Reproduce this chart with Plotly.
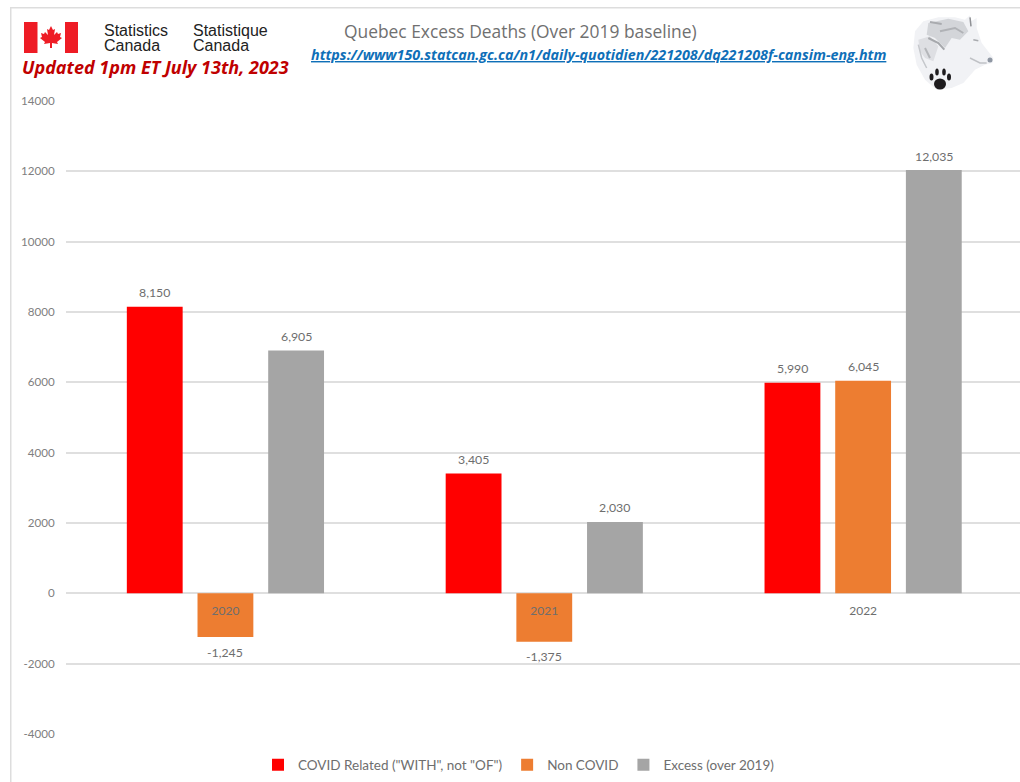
import plotly.graph_objects as go

years = ["2020", "2021", "2022"]
covid_related = [8150, 3405, 5990]
non_covid = [-1245, -1375, 6045]
excess = [6905, 2030, 12035]
series_names = ['COVID Related ("WITH", not "OF")', "Non COVID", "Excess (over 2019)"]
y_ticks = [-4000, -2000, 0, 2000, 4000, 6000, 8000, 10000, 12000, 14000]

W, H = 1020, 782
L, R, T, B = 66, 0, 101, 48
BARGAP = 0.335
X_RANGE = [-0.5, 2.492]
FONT = "Lato, Carlito, sans-serif"
TXT = "#6e6e6e"


def px(x):
    return (x - L) / (W - L - R)


def py(y):
    return 1 - (y - T) / (H - T - B)


def shape(points, fill, line=None, width=0):
    d = "M" + " L".join(f"{px(a):.5f},{py(b):.5f}" for a, b in points) + " Z"
    return dict(type="path", xref="paper", yref="paper", path=d, fillcolor=fill,
                line=dict(color=line or fill, width=width), layer="above")


def wolf(points):
    return [(905 + a / 3, 8 + b / 3) for a, b in points]


def stroke(points, color, width):
    d = "M" + " L".join(f"{px(a):.5f},{py(b):.5f}" for a, b in wolf(points))
    return dict(type="path", xref="paper", yref="paper", path=d, line=dict(color=color, width=width), layer="above")


def circle(cx, cy, rx, ry, fill):
    return dict(type="circle", xref="paper", yref="paper", x0=px(cx - rx), x1=px(cx + rx),
                y0=py(cy + ry), y1=py(cy - ry), fillcolor=fill, line=dict(width=0), layer="above")


def rect(x0, y0, x1, y1, fill):
    return dict(type="rect", xref="paper", yref="paper", x0=px(x0), x1=px(x1), y0=py(y1), y1=py(y0),
                fillcolor=fill, line=dict(width=0), layer="above")


fig = go.Figure()
all_series = [covid_related, non_covid, excess]
for name, vals, color in zip(series_names, all_series, ["#FF0000", "#ED7D31", "#A5A5A5"]):
    fig.add_bar(name=name, x=years, y=vals, marker=dict(color=color, line=dict(width=0)), hoverinfo="skip")

leaf = [(51, 26), (53, 30), (55, 29), (54, 35), (57, 32), (58, 34), (61, 33), (60, 37), (62, 38),
        (57, 42), (58, 44), (52, 43), (52, 48), (50, 48), (50, 43), (44, 44), (45, 42), (40, 38),
        (42, 37), (41, 33), (44, 34), (45, 32), (48, 35), (47, 29), (49, 30)]
head = wolf([(30, 70), (55, 40), (100, 28), (150, 28), (180, 35), (195, 22), (198, 40), (215, 30), (215, 60),
             (230, 105), (265, 150), (262, 165), (240, 170), (210, 185), (175, 225), (140, 240), (95, 245),
             (60, 215), (35, 170), (25, 120)])
mane = wolf([(70, 45), (130, 32), (175, 42), (190, 70), (165, 95), (140, 90), (120, 120), (90, 90), (65, 80)])
cheek = wolf([(40, 95), (75, 85), (100, 115), (85, 160), (60, 150), (45, 130)])

shapes = [
    rect(10, 7, 1020, 8.5, "#DDDDDD"),
    rect(10, 7, 11.5, 782, "#DDDDDD"),
    rect(24, 22, 37.5, 53, "#EE1C25"),
    rect(65, 22, 78, 53, "#EE1C25"),
    shape(leaf, "#EE1C25"),
    shape(head, "#F1F2F5"),
    shape(mane, "#D3D5D9"),
    shape(cheek, "#DEDFE3"),
    stroke([(75, 42), (110, 48)], "#A9ABAF", 2),
    stroke([(105, 70), (150, 60), (175, 75)], "#B0B2B6", 2),
    stroke([(70, 90), (100, 105), (118, 125)], "#A6A8AC", 2),
    stroke([(60, 120), (75, 150)], "#B4B6BA", 2),
    stroke([(40, 110), (50, 150), (65, 180)], "#C5C7CB", 1.5),
    stroke([(195, 28), (198, 55)], "#8F9195", 1.5),
    stroke([(205, 95), (220, 98)], "#A9ABAF", 1.5),
    stroke([(195, 150), (225, 165), (245, 165)], "#C0C2C6", 1.5),
    circle(990, 60, 2.5, 2.5, "#8F97A3"),
    circle(940, 84, 6, 5.5, "#1E1C1E"),
    circle(931.5, 77, 2, 3.5, "#1E1C1E"),
    circle(937, 72, 1.8, 3.5, "#1E1C1E"),
    circle(944, 72, 1.8, 3.5, "#1E1C1E"),
    circle(949, 77, 2, 3.5, "#1E1C1E"),
]


def note(text, x, y, size, color, family, anchor="left"):
    return dict(text=text, xref="paper", yref="paper", x=px(x), y=py(y), xanchor=anchor, yanchor="middle",
                showarrow=False, font=dict(family=family, size=size, color=color))


HEAD_FONT = "Open Sans, sans-serif"
SANS = "Liberation Sans, Arial, sans-serif"
annotations = [
    note("Statistics", 102, 30, 16, "#222222", SANS),
    note("Canada", 102, 46, 16, "#222222", SANS),
    note("Statistique", 191, 30, 16, "#222222", SANS),
    note("Canada", 191, 46, 16, "#222222", SANS),
    note("<b><i>Updated 1pm ET July 13th, 2023</i></b>", 20, 67, 18, "#C00000", HEAD_FONT),
    note("Quebec Excess Deaths (Over 2019 baseline)", 342, 31, 17.4, "#707070", HEAD_FONT),
    note("<b><i><u>https://www150.statcan.gc.ca/n1/daily-quotidien/221208/dq221208f-cansim-eng.htm</u></i></b>",
         309, 55, 14.3, "#0F6FB8", HEAD_FONT),
]

# Value labels sit above/below each bar, at the bar's slot inside its group.
slot_px = (W - L - R) / (X_RANGE[1] - X_RANGE[0]) * (1 - BARGAP) / len(all_series)
for s, vals in enumerate(all_series):
    for i, v in enumerate(vals):
        annotations.append(dict(text=f"{v:,}", x=i, y=v, xref="x", yref="y", showarrow=False,
                                xanchor="center", yanchor="middle", xshift=(s - 1) * slot_px,
                                yshift=14 if v >= 0 else -15,
                                font=dict(family=FONT, size=12.3, color=TXT)))

fig.update_layout(
    width=W, height=H, autosize=False,
    paper_bgcolor="white", plot_bgcolor="white",
    margin=dict(l=L, r=R, t=T, b=B, pad=0),
    barmode="group", bargap=BARGAP, bargroupgap=0.21,
    font=dict(family=FONT, size=12, color=TXT),
    shapes=shapes, annotations=annotations,
    legend=dict(orientation="h", x=px(258), xanchor="left", y=py(765), yanchor="middle",
                font=dict(family=FONT, size=13.5, color=TXT), itemwidth=30, bgcolor="rgba(0,0,0,0)"),
    xaxis=dict(type="category", range=X_RANGE, anchor="free", position=4000 / 18000,
               showgrid=False, showline=False, zeroline=False, ticks="outside", ticklen=6,
               tickcolor="rgba(0,0,0,0)", tickfont=dict(family=FONT, size=12, color=TXT)),
    yaxis=dict(range=[-4000, 14000], tickvals=y_ticks, ticktext=[str(v) for v in y_ticks],
               gridcolor="#DFDFDF", gridwidth=1.5, zeroline=False, showline=False, ticks="outside", ticklen=8,
               tickcolor="rgba(0,0,0,0)", tickfont=dict(family=FONT, size=11.6, color="#808080")),
)

fig.write_html("out.html", config=dict(displayModeBar=False),
               post_script="document.body.style.margin='0';document.documentElement.style.overflow='hidden';")
